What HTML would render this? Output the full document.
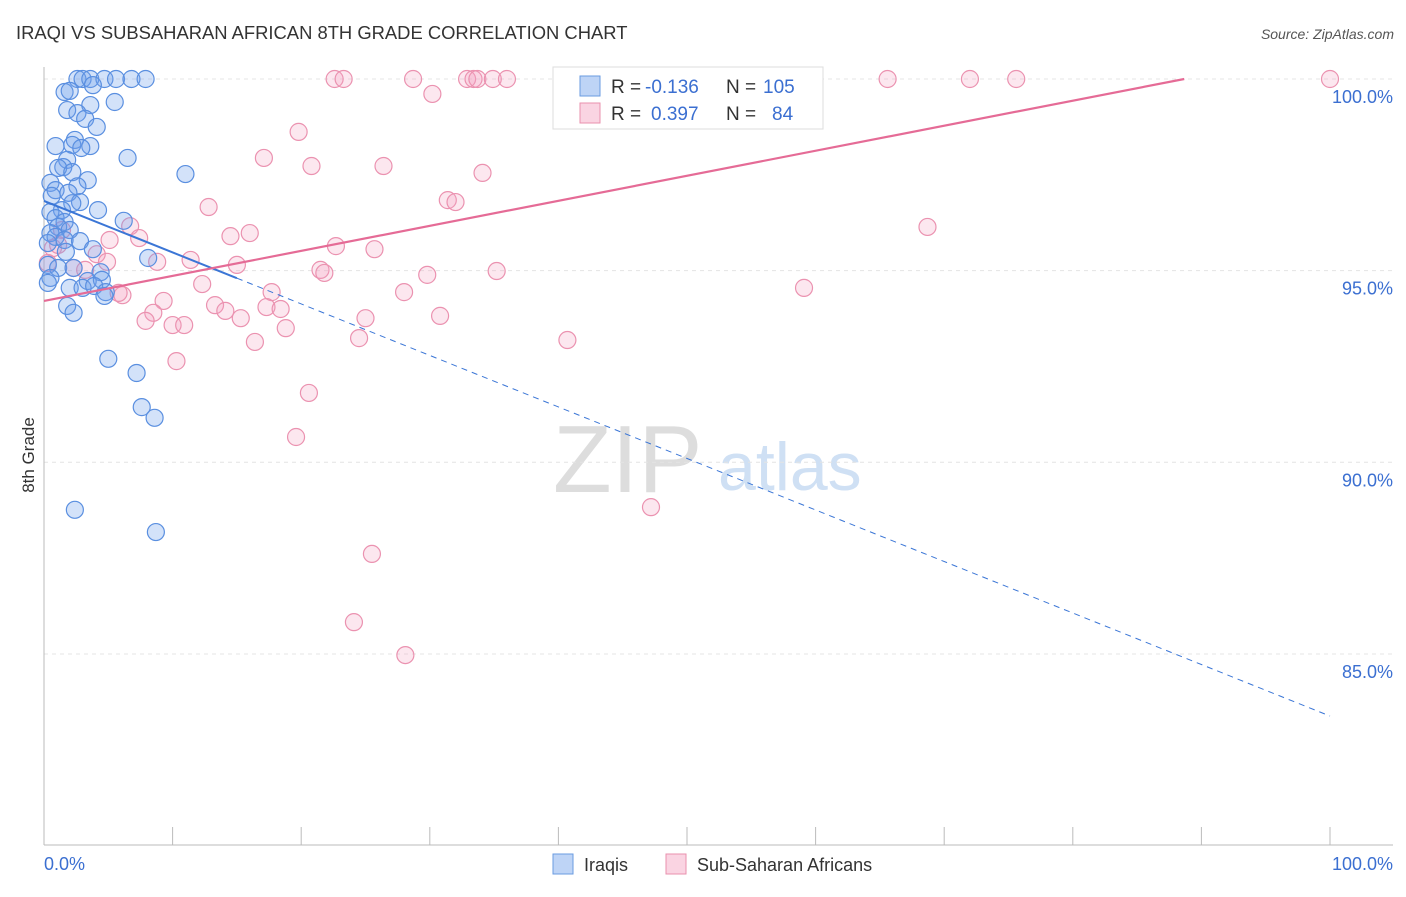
<!DOCTYPE html>
<html><head><meta charset="utf-8">
<style>
body{margin:0;background:#fff;font-family:"Liberation Sans",sans-serif;}
svg text{font-family:"Liberation Sans",sans-serif;}
</style></head>
<body>
<svg id="chart" width="1406" height="892" xmlns="http://www.w3.org/2000/svg">
<text x="16" y="39" font-size="18.4" fill="#333">IRAQI VS SUBSAHARAN AFRICAN 8TH GRADE CORRELATION CHART</text>
<text x="1394" y="39" font-size="14" font-style="italic" fill="#555" text-anchor="end">Source: ZipAtlas.com</text>
<g>
<text x="553" y="492" font-size="96" font-family="Liberation Serif" fill="#ddd">ZIP</text>
<text x="718" y="490" font-size="68" fill="#cfe0f4">atlas</text>
</g>
<g id="grid"></g>
<g id="axes"></g>
<g id="pts"></g>
<g id="lines"></g>
<text transform="translate(34,455) rotate(-90)" font-size="17" fill="#333" text-anchor="middle">8th Grade</text>
<g>
<rect x="553" y="67" width="270" height="62" fill="#fff" stroke="#ddd"/>
<rect x="580" y="76" width="20" height="20" fill="rgba(110,160,235,0.45)" stroke="#6a9be0"/>
<rect x="580" y="103" width="20" height="20" fill="rgba(245,160,190,0.45)" stroke="#e990ae"/>
<text x="611" y="93" font-size="19" fill="#333">R = </text><text x="645" y="93" font-size="19" fill="#3b6fd1">-0.136</text>
<text x="726" y="93" font-size="19" fill="#333">N = </text><text x="763" y="93" font-size="19" fill="#3b6fd1">105</text>
<text x="611" y="120" font-size="19" fill="#333">R = </text><text x="651" y="120" font-size="19" fill="#3b6fd1">0.397</text>
<text x="726" y="120" font-size="19" fill="#333">N = </text><text x="772" y="120" font-size="19" fill="#3b6fd1">84</text>
</g>
<g>
<rect x="553" y="854" width="20" height="20" fill="rgba(110,160,235,0.45)" stroke="#6a9be0"/>
<text x="584" y="871" font-size="18" fill="#333">Iraqis</text>
<rect x="666" y="854" width="20" height="20" fill="rgba(245,160,190,0.45)" stroke="#e990ae"/>
<text x="697" y="871" font-size="18" fill="#333">Sub-Saharan Africans</text>
</g>
</svg>
<script>
const blueX=[2.6,3.0,3.6,4.7,5.6,6.8,7.9,1.6,2.0,3.8,5.5,1.8,3.6,2.6,3.2,4.1,2.4,2.2,0.9,3.6,2.9,6.5,1.8,1.5,1.1,2.2,3.4,11.0,0.5,0.9,2.6,0.6,1.9,4.2,2.8,2.2,1.4,0.5,0.9,6.2,1.6,1.1,2.0,0.5,0.9,1.6,2.8,0.3,3.8,1.7,8.1,0.3,1.1,2.3,4.4,0.5,0.3,3.4,4.5,2.0,3.0,3.9,4.8,4.7,1.8,2.3,5.0,7.2,7.6,8.6,2.4,8.7];
const blueY=[100,100,100,100,100,100,100,99.66,99.69,99.84,99.4,99.19,99.32,99.11,98.96,98.75,98.41,98.28,98.25,98.25,98.2,97.94,97.89,97.7,97.68,97.57,97.36,97.52,97.29,97.1,97.2,96.95,97.03,96.58,96.79,96.76,96.58,96.53,96.37,96.3,96.27,96.14,96.06,95.98,95.88,95.8,95.77,95.72,95.56,95.49,95.33,95.15,95.07,95.07,94.96,94.81,94.68,94.73,94.76,94.55,94.55,94.6,94.44,94.34,94.08,93.9,92.7,92.33,91.44,91.16,88.76,88.18];
const pinkX=[22.6,23.3,28.7,32.9,33.4,33.7,34.9,36.0,40.4,40.7,52.4,65.6,72.0,75.6,100,30.2,19.8,17.1,20.8,26.4,34.1,31.4,32.0,12.8,68.7,6.7,5.1,7.4,14.5,16.0,22.7,25.7,1.4,0.7,4.1,8.8,11.4,15.0,2.3,21.5,21.8,29.8,35.2,4.9,3.2,12.3,17.7,28.0,59.1,6.1,5.8,9.3,13.3,14.1,17.3,18.4,8.5,7.9,10.0,10.9,15.3,25.0,30.8,18.8,24.5,16.4,40.7,10.3,20.6,19.6,47.2,25.5,24.1,28.1,0.3,1.1];
const pinkY=[100,100,100,100,100,100,100,100,100,100,100,100,100,100,100,99.61,98.62,97.94,97.73,97.73,97.55,96.84,96.79,96.66,96.14,96.16,95.8,95.85,95.9,95.98,95.64,95.56,96.06,95.59,95.43,95.23,95.28,95.15,95.07,95.02,94.94,94.89,94.99,95.23,95.02,94.65,94.44,94.44,94.55,94.36,94.42,94.21,94.1,93.95,94.05,94.0,93.9,93.69,93.58,93.58,93.76,93.76,93.82,93.5,93.24,93.14,93.19,92.64,91.81,90.66,88.83,87.61,85.83,84.97,95.2,95.67];
const yTicks=[100,95,90,85];
const yTickLabels=["100.0%","95.0%","90.0%","85.0%"];
const xTicks=[0,10,20,30,40,50,60,70,80,90,100];
const blueTrend=[96.82,83.38];
const pinkTrend=[94.21,100.74];
const NS="http://www.w3.org/2000/svg";
const sx=v=>44+v*12.86;
const sy=v=>79+(100-v)*38.33;
function mk(tag,attrs,parent){const e=document.createElementNS(NS,tag);for(const k in attrs)e.setAttribute(k,attrs[k]);document.getElementById(parent).appendChild(e);return e;}
yTicks.forEach((t,i)=>{
  const g=mk('line',{x1:44,x2:1393,y1:sy(t),y2:sy(t),stroke:'#e4e4e4','stroke-dasharray':'4,4'},'grid');
  
  
  const l=mk('text',{x:1393,y:sy(t)+24,'font-size':18,fill:'#3b6fd1','text-anchor':'end'},'axes');
  l.textContent=yTickLabels[i];
  
  
});
const ax=mk('line',{x1:44,x2:1393,y1:845,y2:845,stroke:'#bbb'},'axes');


const ay=mk('line',{x1:44,x2:44,y1:67,y2:845,stroke:'#bbb'},'axes');


xTicks.forEach(t=>{
  const k=mk('line',{x1:sx(t),x2:sx(t),y1:827,y2:845,stroke:'#bbb'},'axes');
  
  
});
const x0=mk('text',{x:44,y:870,'font-size':18,fill:'#3b6fd1'},'axes');x0.textContent='0.0%';


const x1=mk('text',{x:1393,y:870,'font-size':18,fill:'#3b6fd1','text-anchor':'end'},'axes');x1.textContent='100.0%';


pinkX.forEach((x,i)=>{
  const c=mk('circle',{cx:sx(x),cy:sy(pinkY[i]),r:8.5,fill:'rgba(245,160,190,0.25)',stroke:'#eb92b0','stroke-width':1.2},'pts');
  
  
});
blueX.forEach((x,i)=>{
  const c=mk('circle',{cx:sx(x),cy:sy(blueY[i]),r:8.5,fill:'rgba(110,160,235,0.3)',stroke:'#5a8fe0','stroke-width':1.2},'pts');
  
  
});
const bAt=x=>blueTrend[0]+(blueTrend[1]-blueTrend[0])*x/100;
const b1=mk('line',{x1:sx(0),y1:sy(bAt(0)),x2:sx(15),y2:sy(bAt(15)),stroke:'#3b76d6','stroke-width':2},'lines');


const b2=mk('line',{x1:sx(15),y1:sy(bAt(15)),x2:sx(100),y2:sy(bAt(100)),stroke:'#3b76d6','stroke-width':1,'stroke-dasharray':'6,5'},'lines');


const xEnd=Math.min(100,(100-pinkTrend[0])/(pinkTrend[1]-pinkTrend[0])*100);
const pAt=x=>pinkTrend[0]+(pinkTrend[1]-pinkTrend[0])*x/100;
const p1=mk('line',{x1:sx(0),y1:sy(pinkTrend[0]),x2:sx(xEnd),y2:sy(pAt(xEnd)),stroke:'#e56b96','stroke-width':2.2},'lines');


</script>
</body></html>
